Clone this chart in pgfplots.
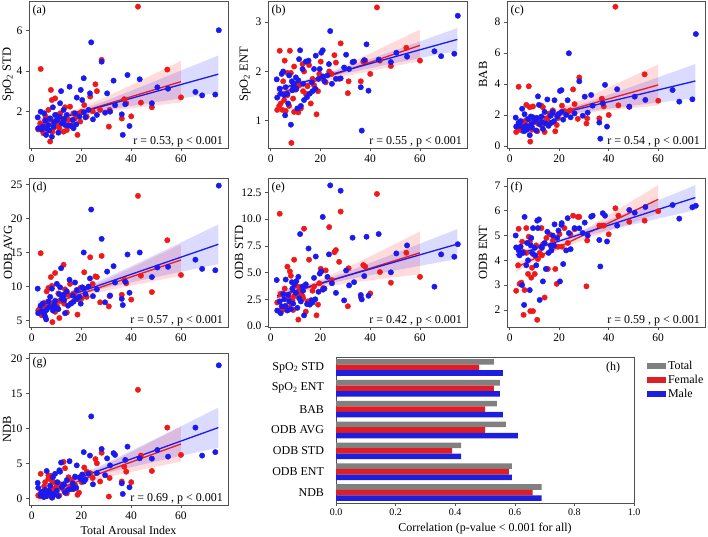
\documentclass[border=0pt]{standalone}
\usepackage{fontspec}
\setmainfont{Liberation Serif}
\usepackage{pgfplots}
\usepackage{pgfplotstable}
\pgfplotsset{compat=1.18}

\definecolor{sred}{RGB}{240,25,25}
\definecolor{sblue}{RGB}{25,25,240}
\definecolor{bgray}{RGB}{128,128,128}
\definecolor{bred}{RGB}{222,30,36}
\definecolor{bblue}{RGB}{30,30,222}
\definecolor{frame}{RGB}{80,80,80}

% x = total arousal index; a..g = the seven features (panels a..g)
\pgfplotstableread{
x a b c d e f g
2.4 1.70 1.84 1.83 9.7 4.30 5.00 2.2
2.6 1.16 1.47 1.25 6.1 1.45 4.52 1.5
3.6 1.98 1.65 1.50 7.2 2.30 4.40 0.4
4.0 1.10 1.55 1.30 6.4 1.20 4.20 0.9
4.4 1.24 1.95 1.60 7.5 1.85 4.55 0.9
5.0 1.90 2.00 2.40 6.0 3.00 3.00 0.2
5.4 1.55 1.52 1.20 5.6 2.50 4.30 1.2
5.8 0.83 1.11 0.95 5.2 1.85 2.20 0.3
6.0 1.16 1.68 2.05 6.6 4.35 5.75 3.9
6.7 1.32 1.55 1.30 7.8 1.45 3.80 0.7
7.0 1.05 1.35 1.05 7.0 2.90 4.70 1.0
7.4 1.65 1.92 1.75 8.5 2.30 4.00 1.8
8.1 0.74 0.92 0.70 9.7 1.60 2.80 0.1
8.5 2.20 1.80 1.90 6.5 4.10 4.60 3.0
8.7 1.24 1.62 1.40 7.0 3.50 4.90 0.6
9.0 1.45 1.70 1.20 7.3 2.10 4.30 0.5
9.4 1.82 1.75 1.85 7.9 3.90 5.30 3.5
10.1 1.57 1.88 1.60 10.4 3.10 4.50 1.1
10.3 1.57 1.65 1.70 6.8 4.20 4.20 2.3
10.7 0.94 1.25 1.00 6.7 1.70 3.80 0.3
11.1 1.74 1.82 1.80 8.9 4.60 5.60 4.0
11.4 2.40 2.25 3.20 9.9 2.60 5.30 3.8
11.8 3.00 2.43 2.65 12.7 8.60 5.65 5.1
12.1 1.40 1.30 1.40 8.2 2.30 2.40 1.6
12.8 2.07 2.05 1.90 8.8 3.70 4.55 2.0
13.0 1.60 1.75 1.55 8.0 3.30 4.50 1.9
13.4 1.32 1.42 1.10 6.1 1.00 3.15 0.8
14.1 1.82 2.20 2.20 9.3 3.90 4.70 2.6
14.6 1.30 1.48 1.45 7.2 2.05 3.65 1.2
15.2 3.22 2.22 3.00 11.0 7.25 5.15 5.3
15.7 1.27 1.55 1.30 7.5 2.00 4.30 1.3
16.5 1.57 1.78 1.95 8.7 2.40 4.60 2.1
16.8 1.16 1.60 1.50 7.8 2.20 4.40 1.4
17.4 1.90 2.05 2.20 10.6 4.50 5.00 3.1
17.9 1.35 1.65 1.60 8.2 2.50 4.60 1.5
18.1 2.68 2.32 2.95 9.5 6.50 5.45 4.7
19.2 1.74 1.85 1.90 8.5 3.20 4.90 3.0
19.7 3.06 2.05 2.05 7.5 4.90 5.20 2.8
20.3 2.56 2.38 3.55 9.9 5.10 3.15 3.4
20.9 3.64 2.43 3.60 15.0 10.20 5.43 6.6
21.0 1.95 1.90 2.20 9.7 3.40 5.50 2.4
21.6 1.70 1.80 1.70 8.9 3.50 3.85 2.7
22.8 2.07 1.92 2.00 10.0 4.60 4.40 3.5
23.4 2.89 2.15 2.95 11.2 6.70 5.70 6.1
23.9 5.42 2.82 5.98 21.3 13.15 5.10 11.7
24.6 1.60 1.75 1.85 8.6 4.00 4.45 2.0
26.2 1.82 1.85 2.10 9.6 3.10 5.30 3.6
28.1 4.46 1.86 4.17 17.0 12.65 5.29 7.05
29.5 1.93 2.08 1.95 7.7 2.40 5.10 3.3
30.3 2.89 2.34 3.18 12.2 5.20 5.52 5.7
31.5 1.98 2.05 2.15 8.7 3.80 5.00 4.7
32.9 3.52 2.19 3.29 13.0 8.26 5.76 6.45
33.5 2.30 2.20 2.60 10.6 4.10 5.80 6.2
36.2 1.85 1.68 1.51 8.2 2.90 4.82 2.14
36.6 0.83 0.80 0.47 7.3 2.49 3.75 0.62
37.6 2.35 2.23 2.75 10.7 4.67 5.90 5.48
38.5 3.80 2.55 3.94 14.7 8.35 5.80 7.38
39.3 1.27 1.61 1.25 9.1 2.83 4.76 1.57
43.4 3.59 2.24 3.66 15.0 8.60 5.40 5.71
48.3 2.40 2.19 2.54 11.4 5.02 6.03 5.67
50.5 3.19 2.38 3.18 12.8 6.79 5.92 6.9
54.8 3.12 2.30 2.97 12.9 7.54 6.15 5.95
65.8 2.96 2.41 3.61 13.95 3.68 6.23 10.1
68.5 2.79 2.31 2.86 12.6 6.70 5.68 6.1
73.8 2.83 2.36 3.01 12.4 6.48 6.14 6.6
75.2 6.02 3.13 7.22 24.8 7.65 6.20 19.0
}\bluedata

\pgfplotstableread{
x a b c d e f g
2.6 1.10 1.22 0.90 6.5 2.20 2.77 0.4
3.4 1.40 1.30 1.35 6.9 1.40 3.80 0.3
3.6 4.10 2.42 3.82 14.9 10.50 5.27 3.5
4.0 1.07 1.35 1.10 5.8 3.00 3.05 0.8
4.7 0.91 1.22 1.00 6.0 1.50 3.10 0.2
5.0 1.30 1.80 1.55 7.6 2.90 4.75 1.7
5.4 1.16 1.42 1.30 6.4 1.60 4.35 2.3
5.6 1.74 2.22 1.55 7.0 3.50 1.80 0.9
6.0 1.57 1.20 1.30 9.3 1.90 2.80 0.3
6.7 1.07 1.52 2.65 7.8 1.75 5.30 2.8
6.7 2.07 1.97 1.65 9.8 5.55 4.30 3.3
7.4 0.50 1.30 1.20 7.6 2.60 3.45 0.5
7.7 3.06 2.42 3.85 11.4 5.10 4.95 3.2
8.1 2.56 1.97 2.50 10.1 4.70 4.75 2.5
8.3 0.99 0.55 0.28 4.8 2.10 1.95 0.1
8.7 1.49 1.62 1.40 7.3 2.40 3.30 1.3
9.0 1.20 1.45 1.05 6.7 1.50 3.70 0.9
9.4 1.40 1.18 1.50 6.3 2.80 1.95 0.6
9.4 2.64 2.10 2.55 12.0 6.20 4.25 2.2
10.1 1.82 1.63 1.60 7.2 3.80 3.45 1.6
10.7 1.32 1.75 1.80 9.0 3.10 4.60 1.8
11.1 1.16 1.17 0.95 5.4 0.60 1.60 0.4
11.4 1.90 1.72 1.45 7.9 3.65 4.05 2.0
12.1 1.65 1.25 1.75 8.7 3.00 4.30 1.5
12.8 0.99 2.15 2.60 13.2 2.80 5.30 5.2
13.0 1.50 1.60 1.30 7.5 2.60 4.20 1.1
13.4 2.20 2.00 2.50 9.6 9.10 4.65 4.3
14.1 1.07 1.55 0.90 6.2 1.35 2.50 0.7
14.8 1.57 1.70 1.65 8.8 2.30 4.90 3.0
15.4 2.23 2.13 1.80 10.4 6.20 3.65 1.6
16.1 1.32 1.35 2.10 7.6 2.40 5.05 2.6
16.8 1.90 1.85 1.50 9.0 3.30 4.40 1.3
17.4 1.65 1.72 2.30 8.5 3.70 4.80 1.9
18.4 0.83 1.13 0.95 5.9 1.00 3.65 0.5
19.0 1.90 1.60 1.35 8.1 2.00 3.05 0.8
19.5 1.49 1.95 1.80 9.8 4.00 4.55 3.0
20.1 1.98 2.20 2.10 8.3 5.35 5.05 2.3
21.1 2.31 1.85 2.60 12.1 3.55 4.55 4.4
22.1 1.74 1.78 2.25 8.5 5.20 5.30 3.8
23.5 2.73 2.00 2.20 14.3 9.25 4.70 3.6
24.5 2.00 1.95 2.30 10.4 4.30 5.05 2.9
25.6 3.34 2.33 3.65 11.5 6.90 5.80 5.6
26.2 3.00 2.18 2.70 11.4 7.10 5.25 5.0
27.5 2.07 1.85 1.75 7.7 6.00 5.75 2.4
28.1 4.55 2.57 4.42 14.5 10.70 5.75 6.5
31.0 1.24 1.56 1.45 7.1 1.85 2.95 0.25
31.3 2.07 1.80 1.78 8.6 5.40 4.80 2.9
36.2 1.64 1.80 1.78 8.8 2.70 5.40 2.4
37.2 2.60 2.20 3.05 11.0 5.70 5.40 4.5
38.0 2.40 2.22 2.55 10.5 5.55 5.40 3.8
40.0 1.75 1.95 2.00 8.1 3.05 5.05 2.3
42.7 7.19 3.30 8.98 23.3 12.35 6.10 15.5
43.9 2.43 2.22 2.62 11.6 5.05 5.80 6.1
48.3 2.20 2.11 2.52 9.2 4.05 5.55 3.9
54.5 4.07 2.48 4.62 16.8 6.85 5.60 10.1
60.0 2.69 2.22 2.92 11.7 4.60 5.98 6.2
}\reddata

\pgfplotstableread{
y total female male
0 0.53 0.48 0.56
1 0.55 0.53 0.55
2 0.54 0.50 0.56
3 0.57 0.50 0.61
4 0.42 0.39 0.42
5 0.59 0.58 0.59
6 0.69 0.66 0.69
}\corrdata

\pgfplotsset{
  panel/.style={
    scale only axis, width=199pt, height=147pt, anchor=south west,
    xmin=-1.1, xmax=78.9, xtick={0,20,40,60},
    axis line style={frame, line width=0.7pt},
    tick align=outside, tick pos=left, major tick length=3pt,
    tick style={frame, line width=0.6pt},
    tick label style={font=\fontsize{11.5}{12}\selectfont},
    ylabel style={font=\fontsize{12.5}{13}\selectfont, at={(rel axis cs:0,0.5)}, anchor=center},
    xlabel style={font=\fontsize{12}{13}\selectfont},
    /pgf/number format/assume math mode=true,
  },
  sc red/.style={only marks, mark=*, mark size=2.7pt, color=sred, mark options={solid}},
  sc blue/.style={only marks, mark=*, mark size=2.7pt, color=sblue, mark options={solid}},
  band red/.style={draw=none, fill=red, fill opacity=0.14},
  band blue/.style={draw=none, fill=blue, fill opacity=0.14},
  fit red/.style={sred, line width=1.3pt, no marks},
  fit blue/.style={sblue, line width=1.3pt, no marks},
}
\newcommand{\plabel}[1]{\node[anchor=north west, font=\fontsize{12}{12}\selectfont, inner sep=0pt] at (rel axis cs:0.017,0.975) {#1};}
\newcommand{\rtext}[1]{\node[anchor=base east, font=\fontsize{12}{12}\selectfont, inner sep=0pt] at (rel axis cs:0.975,0.025) {#1};}

\begin{document}
\begin{tikzpicture}
\path[use as bounding box] (0,0) rectangle (708pt,536pt);

% (a)
\begin{axis}[panel, at={(29pt,388pt)}, ymin=0.18, ymax=7.47, ytick={2,4,6},
  ylabel={SpO\textsubscript{2} STD}, ylabel style={yshift=21pt}]
\addplot[band red] coordinates {(2.5,1.68)(10,1.82)(16,1.99)(30,2.72)(45,3.60)(60,4.50)(60,2.44)(45,2.22)(30,1.99)(16,1.68)(10,1.40)(2.5,0.98)};
\addplot[band blue] coordinates {(2.5,1.62)(10,1.79)(18,2.01)(30,2.53)(45,3.27)(60,4.02)(75,4.77)(75,2.91)(60,2.64)(45,2.36)(30,2.07)(18,1.77)(10,1.44)(2.5,1.10)};
\addplot[sc red] table[x=x,y=a]{\reddata};
\addplot[sc blue] table[x=x,y=a]{\bluedata};
\addplot[fit red] coordinates {(2.5,1.33)(60,3.47)};
\addplot[fit blue] coordinates {(2.5,1.36)(75,3.84)};
\plabel{(a)}
\rtext{r = 0.53, p \textless{} 0.001}
\end{axis}

% (b)
\begin{axis}[panel, at={(268pt,388pt)}, ymin=0.447, ymax=3.43, ytick={1,2,3},
  ylabel={SpO\textsubscript{2} ENT}, ylabel style={yshift=23pt}]
\addplot[band red] coordinates {(2.5,1.65)(10,1.73)(16,1.82)(30,2.13)(45,2.49)(60,2.85)(60,2.21)(45,2.06)(30,1.90)(16,1.72)(10,1.61)(2.5,1.43)};
\addplot[band blue] coordinates {(2.5,1.70)(10,1.78)(18,1.88)(30,2.08)(45,2.34)(60,2.61)(75,2.88)(75,2.42)(60,2.27)(45,2.12)(30,1.96)(18,1.82)(10,1.70)(2.5,1.57)};
\addplot[sc red] table[x=x,y=b]{\reddata};
\addplot[sc blue] table[x=x,y=b]{\bluedata};
\addplot[fit red] coordinates {(2.5,1.54)(60,2.53)};
\addplot[fit blue] coordinates {(2.5,1.635)(75,2.65)};
\plabel{(b)}
\rtext{r = 0.55 , p \textless{} 0.001}
\end{axis}

% (c)
\begin{axis}[panel, at={(507pt,388pt)}, width=198pt, ymin=-0.13, ymax=9.35, ytick={0,2,4,6,8},
  ylabel={BAB}, ylabel style={yshift=24pt}]
\addplot[band red] coordinates {(2.5,1.80)(10,1.95)(16,2.16)(30,3.05)(45,4.15)(60,5.26)(60,2.62)(45,2.38)(30,2.13)(16,1.76)(10,1.42)(2.5,0.90)};
\addplot[band blue] coordinates {(2.5,1.73)(10,1.92)(18,2.16)(30,2.75)(45,3.58)(60,4.43)(75,5.29)(75,3.09)(60,2.80)(45,2.51)(30,2.20)(18,1.87)(10,1.50)(2.5,1.11)};
\addplot[sc red] table[x=x,y=c]{\reddata};
\addplot[sc blue] table[x=x,y=c]{\bluedata};
\addplot[fit red] coordinates {(2.5,1.35)(60,3.94)};
\addplot[fit blue] coordinates {(2.5,1.42)(75,4.19)};
\plabel{(c)}
\rtext{r = 0.54 , p \textless{} 0.001}
\end{axis}

% (d)
\begin{axis}[panel, at={(29pt,209pt)}, height=149pt, ymin=4.08, ymax=25.92, ytick={5,10,15,20,25},
  ylabel={ODB AVG}, ylabel style={yshift=21pt}]
\addplot[band red] coordinates {(2.5,7.58)(10,8.19)(16,8.81)(30,11.0)(45,13.59)(60,16.2)(60,11.6)(45,10.51)(30,9.39)(16,8.12)(10,7.27)(2.5,6.02)};
\addplot[band blue] coordinates {(2.5,7.91)(10,8.59)(18,9.42)(30,11.28)(45,13.85)(60,16.47)(75,19.1)(75,13.3)(60,12.17)(45,11.01)(30,9.83)(18,8.67)(10,7.49)(2.5,6.29)};
\addplot[sc red] table[x=x,y=d]{\reddata};
\addplot[sc blue] table[x=x,y=d]{\bluedata};
\addplot[fit red] coordinates {(2.5,6.8)(60,13.9)};
\addplot[fit blue] coordinates {(2.5,7.1)(75,16.2)};
\plabel{(d)}
\rtext{r = 0.57 , p \textless{} 0.001}
\end{axis}

% (e)
\begin{axis}[panel, at={(268pt,209pt)}, height=149pt, ymin=-0.09, ymax=13.84,
  ytick={0,2.5,5,7.5,10,12.5},
  yticklabel style={/pgf/number format/.cd, fixed, fixed zerofill, precision=1},
  ylabel={ODB STD}, ylabel style={yshift=29pt}]
\addplot[band red] coordinates {(2.5,3.36)(10,3.62)(16,3.96)(30,5.38)(45,7.10)(60,8.85)(60,4.85)(45,4.42)(30,3.98)(16,3.36)(10,2.82)(2.5,2.0)};
\addplot[band blue] coordinates {(2.5,3.22)(10,3.60)(18,4.05)(30,5.01)(45,6.35)(60,7.70)(75,9.06)(75,6.26)(60,5.63)(45,4.98)(30,4.31)(18,3.68)(10,3.06)(2.5,2.44)};
\addplot[sc red] table[x=x,y=e]{\reddata};
\addplot[sc blue] table[x=x,y=e]{\bluedata};
\addplot[fit red] coordinates {(2.5,2.68)(60,6.85)};
\addplot[fit blue] coordinates {(2.5,2.83)(75,7.66)};
\plabel{(e)}
\rtext{r = 0.42 , p \textless{} 0.001}
\end{axis}

% (f)
\begin{axis}[panel, at={(507pt,209pt)}, width=198pt, height=149pt, ymin=1.31, ymax=7.32, ytick={2,3,4,5,6,7},
  ylabel={ODB ENT}, ylabel style={yshift=24pt}]
\addplot[band red] coordinates {(2.5,3.90)(10,4.18)(16,4.44)(30,5.22)(45,6.13)(60,7.03)(60,5.89)(45,5.36)(30,4.83)(16,4.27)(10,3.96)(2.5,3.52)};
\addplot[band blue] coordinates {(2.5,4.36)(10,4.55)(18,4.78)(30,5.22)(45,5.82)(60,6.42)(75,7.03)(75,6.03)(60,5.68)(45,5.33)(30,4.97)(18,4.65)(10,4.36)(2.5,4.08)};
\addplot[sc red] table[x=x,y=f]{\reddata};
\addplot[sc blue] table[x=x,y=f]{\bluedata};
\addplot[fit red] coordinates {(2.5,3.71)(60,6.46)};
\addplot[fit blue] coordinates {(2.5,4.22)(75,6.53)};
\plabel{(f)}
\rtext{r = 0.59 , p \textless{} 0.001}
\end{axis}

% (g)
\begin{axis}[panel, at={(29pt,31pt)}, height=152pt, ymin=-0.96, ymax=20.76, ytick={0,5,10,15,20},
  ylabel={NDB}, ylabel style={yshift=22pt}, xlabel={Total Arousal Index}]
\addplot[band red] coordinates {(2.5,1.18)(10,1.80)(16,2.45)(30,4.76)(45,7.50)(60,10.26)(60,5.26)(45,4.15)(30,3.01)(16,1.70)(10,0.80)(2.5,-0.52)};
\addplot[band blue] coordinates {(2.5,1.61)(10,2.31)(18,3.17)(30,5.05)(45,7.66)(60,10.29)(75,12.96)(75,7.24)(60,6.06)(45,4.86)(30,3.62)(18,2.42)(10,1.23)(2.5,0.01)};
\addplot[sc red] table[x=x,y=g]{\reddata};
\addplot[sc blue] table[x=x,y=g]{\bluedata};
\addplot[fit red] coordinates {(2.5,0.33)(60,7.76)};
\addplot[fit blue] coordinates {(2.5,0.81)(75,10.1)};
\plabel{(g)}
\rtext{r = 0.69 , p \textless{} 0.001}
\end{axis}

% (h)
\begin{axis}[scale only axis, width=298pt, height=146pt, anchor=south west, at={(336pt,33pt)},
  xbar, bar width=0.2667,
  xmin=0, xmax=1, ymin=-0.5, ymax=6.5, y dir=reverse,
  xtick={0,0.2,0.4,0.6,0.8,1},
  xticklabel style={font=\fontsize{10}{11}\selectfont, /pgf/number format/.cd, fixed, fixed zerofill, precision=1},
  ytick={0,...,6},
  yticklabels={SpO\textsubscript{2} STD, SpO\textsubscript{2} ENT, BAB, ODB AVG, ODB STD, ODB ENT, NDB},
  yticklabel style={font=\fontsize{12}{13}\selectfont, xshift=-6pt},
  axis line style={frame, line width=0.7pt},
  tick align=outside, xtick pos=bottom, ytick style={draw=none}, major tick length=2.5pt,
  tick style={frame, line width=0.6pt},
  /pgf/number format/assume math mode=true,
  xlabel={Correlation (p-value \textless{} 0.001 for all)},
  xlabel style={font=\fontsize{12}{13}\selectfont},
  legend style={at={(1.043,0.985)}, anchor=north west, draw=none, fill=none,
    font=\fontsize{12}{13}\selectfont, row sep=0pt, inner sep=0pt},
  legend cell align=left,
  legend image code/.code={\fill[#1] (0pt,-3pt) rectangle (19pt,3pt);},
]
\addplot[draw=none, fill=bgray, bar shift=-0.2667] table[x=total,y=y]{\corrdata};
\addplot[draw=none, fill=bred, bar shift=0] table[x=female,y=y]{\corrdata};
\addplot[draw=none, fill=bblue, bar shift=0.2667] table[x=male,y=y]{\corrdata};
\legend{Total, Female, Male}
\node[font=\fontsize{12}{12}\selectfont] at (rel axis cs:0.93,0.93) {(h)};
\end{axis}
\end{tikzpicture}
\end{document}
